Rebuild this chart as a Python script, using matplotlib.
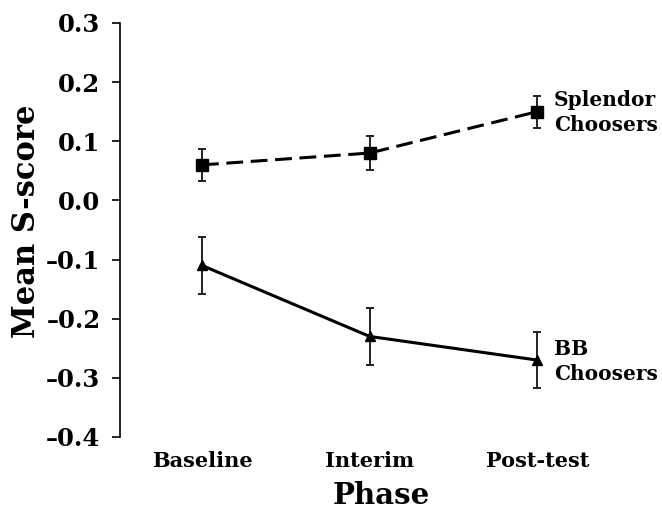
import matplotlib
matplotlib.use("Agg")
import matplotlib.pyplot as plt

phases = ["Baseline", "Interim", "Post-test"]
splendor = [0.06, 0.08, 0.15]
splendor_err = [0.027, 0.028, 0.027]
bb = [-0.11, -0.23, -0.27]
bb_err = [0.048, 0.048, 0.048]
yticks = [0.3, 0.2, 0.1, 0.0, -0.1, -0.2, -0.3, -0.4]

plt.rcParams['font.family'] = ['DejaVu Serif']
plt.rcParams['font.weight'] = 'bold'

fig = plt.figure(figsize=(6.62, 5.15), dpi=100)
ax = fig.add_axes([0.181, 0.1515, 0.79, 0.804])

x = list(range(len(phases)))
ax.errorbar(x, splendor, yerr=splendor_err, color='black', linestyle=(0, (5.5, 2.5)),
            linewidth=2.2, marker='s', markersize=8, ecolor='#222222', elinewidth=1.4,
            capsize=2.7, capthick=1.4)
ax.errorbar(x, bb, yerr=bb_err, color='black', linestyle='-',
            linewidth=2.2, marker='^', markersize=7, ecolor='#222222', elinewidth=1.4,
            capsize=2.7, capthick=1.4)

ax.text(2.1, 0.148, "Splendor\nChoosers", fontsize=14.5, fontweight='bold',
        va='center', ha='left', linespacing=1.3)
ax.text(2.1, -0.272, "BB\nChoosers", fontsize=14.5, fontweight='bold',
        va='center', ha='left', linespacing=1.3)

ax.set_xlim(-0.49, 2.63)
ax.set_ylim(-0.4, 0.3)
ax.set_yticks(yticks)
ax.set_yticklabels([f"{v:.1f}".replace("-", "\u2013") for v in yticks], fontsize=17.5, fontweight='bold')
ax.set_xticks(x)
ax.set_xticklabels(phases, fontsize=15, fontweight='bold')
ax.tick_params(axis='x', length=0, pad=10)
ax.tick_params(axis='y', length=6, width=1.2, direction='out', pad=8)
for s in ['top', 'right', 'bottom']:
    ax.spines[s].set_visible(False)
ax.spines['left'].set_linewidth(1.2)
ax.set_ylabel("Mean S-score", fontsize=22, fontweight='bold')
ax.yaxis.label.set_va('center')
ax.yaxis.set_label_coords(-0.178, 0.522)
ax.set_xlabel("Phase", fontsize=21, fontweight='bold', labelpad=7)

fig.savefig("out.png", dpi=100)
